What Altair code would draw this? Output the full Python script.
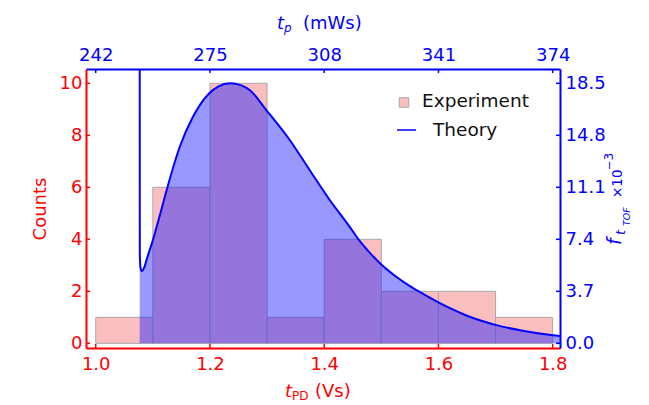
import altair as alt
import pandas as pd

# ---------------- data ----------------
bin_lo = [1.0, 1.1, 1.2, 1.3, 1.4, 1.5, 1.6, 1.7]
bin_hi = [1.1, 1.2, 1.3, 1.4, 1.5, 1.6, 1.7, 1.8]
counts = [1, 6, 10, 1, 4, 2, 2, 1]

theory_t = [1.0770, 1.0772, 1.0785, 1.0805, 1.0850, 1.0887, 1.100, 1.112, 1.124,
            1.147, 1.170, 1.198, 1.215, 1.2346, 1.255, 1.270, 1.299, 1.340,
            1.375, 1.410, 1.445, 1.461, 1.480, 1.500, 1.525, 1.550, 1.573,
            1.600, 1.625, 1.650, 1.700, 1.750, 1.800, 1.8128]
theory_f = [22.0, 6.29, 5.37, 5.14, 5.40, 5.90, 7.33, 9.07, 10.88,
            13.97, 16.10, 17.76, 18.28, 18.50, 18.35, 18.00, 16.58, 14.45,
            12.30, 10.18, 8.27, 7.34, 6.44, 5.61, 4.77, 4.07, 3.52,
            2.92, 2.41, 1.96, 1.31, 0.87, 0.57, 0.52]

x_ticks = [1.0, 1.2, 1.4, 1.6, 1.8]
top_labels = ["242", "275", "308", "341", "374"]
count_ticks = [0, 2, 4, 6, 8, 10]
f_ticks = [0.0, 3.7, 7.4, 11.1, 14.8, 18.5]
legend_labels = ["Experiment", "Theory"]

# ---------------- style ----------------
RED = "#ff0000"
BLUE = "#0000ff"
PINK = "#fabebe"
FONT = "DejaVu Sans"
W, H = 474, 279

X_DOM = [0.983, 1.8128]
Y_DOM = [-0.18, 10.55]
F_DOM = [-0.18 * 1.85, 10.55 * 1.85]

xs = alt.Scale(domain=X_DOM, nice=False, zero=False)
ys = alt.Scale(domain=Y_DOM, nice=False, zero=False)
fs = alt.Scale(domain=F_DOM, nice=False, zero=False)

hist = pd.DataFrame({"lo": bin_lo, "hi": bin_hi, "n": counts})
theory = pd.DataFrame({"t": theory_t, "f": theory_f})

def axis(orient, color, values, pad, **kw):
    return alt.Axis(orient=orient, values=values, title=None, grid=False, ticks=False,
                    domainColor=color, domainWidth=2, labelColor=color, labelFont=FONT,
                    labelFontSize=18, labelPadding=pad, **kw)

top_expr = "[" + ",".join("'%s'" % s for s in top_labels) + "][round((datum.value-1.0)/0.2)]"

bars = alt.Chart(hist).mark_rect(fill=PINK, stroke="#a9a9a9", strokeWidth=1).encode(
    x=alt.X("lo:Q", scale=xs, axis=axis("bottom", RED, x_ticks, 7, format=".1f")),
    x2="hi:Q",
    y=alt.Y("n:Q", scale=ys, axis=axis("left", RED, count_ticks, 4, format="d")),
    y2=alt.datum(0),
)

area = alt.Chart(theory).mark_area(color="#1a1aff", opacity=0.45, interpolate="monotone", clip=True).encode(
    x=alt.X("t:Q", scale=xs, axis=axis("top", BLUE, x_ticks, 5, labelExpr=top_expr)),
    y=alt.Y("f:Q", scale=fs, axis=axis("right", BLUE, f_ticks, 5, format=".1f")),
    y2=alt.datum(0),
)

line = alt.Chart(theory).mark_line(color=BLUE, strokeWidth=2, interpolate="monotone", clip=True).encode(
    x=alt.X("t:Q", scale=xs, axis=None),
    y=alt.Y("f:Q", scale=fs, axis=None),
)

# inward ticks
bt = alt.Chart(pd.DataFrame({"v": x_ticks})).mark_rule(color=RED, strokeWidth=1.5).encode(
    x=alt.X("v:Q", scale=xs, axis=None), y=alt.value(H), y2=alt.value(H - 4))
tt = alt.Chart(pd.DataFrame({"v": x_ticks})).mark_rule(color=BLUE, strokeWidth=1.5).encode(
    x=alt.X("v:Q", scale=xs, axis=None), y=alt.value(0), y2=alt.value(4))
lt = alt.Chart(pd.DataFrame({"v": count_ticks})).mark_rule(color=RED, strokeWidth=1.5).encode(
    y=alt.Y("v:Q", scale=ys, axis=None), x=alt.value(0), x2=alt.value(4))
rt = alt.Chart(pd.DataFrame({"v": f_ticks})).mark_rule(color=BLUE, strokeWidth=1.5).encode(
    y=alt.Y("v:Q", scale=fs, axis=None), x=alt.value(W), x2=alt.value(W - 4))

# legend
leg_sq = alt.Chart(pd.DataFrame({"k": legend_labels[:1]})).mark_square(
    size=90, fill=PINK, stroke="#a9a9a9", strokeWidth=1, opacity=1).encode(
    x=alt.value(318), y=alt.value(33.5))
leg_ln = alt.Chart(pd.DataFrame({"k": legend_labels[1:]})).mark_rule(color=BLUE, strokeWidth=1.5).encode(
    x=alt.value(311), x2=alt.value(330), y=alt.value(61))
leg_t1 = alt.Chart(pd.DataFrame({"k": legend_labels[:1]})).mark_text(
    align="left", baseline="alphabetic", font=FONT, fontSize=18.5, color="#111111").encode(
    x=alt.value(336), y=alt.value(38), text="k:N")
leg_t2 = alt.Chart(pd.DataFrame({"k": legend_labels[1:]})).mark_text(
    align="left", baseline="alphabetic", font=FONT, fontSize=18.5, color="#111111").encode(
    x=alt.value(347), y=alt.value(67), text="k:N")

def txt(s, x, y, color, size, italic=False, angle=0, align="left"):
    return alt.Chart(pd.DataFrame({"s": [s]})).mark_text(
        align=align, baseline="alphabetic", font=FONT, fontSize=size,
        fontStyle="italic" if italic else "normal", angle=angle, color=color).encode(
        x=alt.value(x), y=alt.value(y), text="s:N")

titles = [
    # bottom: t_PD (Vs)
    txt("t", 199, 328, RED, 18, True),
    txt("PD", 206, 331, RED, 12),
    txt("(Vs)", 229, 328, RED, 18),
    # top: t_p (mWs)
    txt("t", 191, -40, BLUE, 18, True),
    txt("p", 198, -37, BLUE, 12, True),
    txt("(mWs)", 217, -40, BLUE, 18),
    # left: Counts
    txt("Counts", -40, 140, RED, 18, False, 270, "center"),
    # right: f_tTOF x10^-3
    txt("f", 535, 176, BLUE, 19, True, 270),
    txt("t", 539, 166, BLUE, 13, True, 270),
    txt("TOF", 544, 157, BLUE, 9.5, True, 270),
    txt("×10", 536, 129, BLUE, 13.5, False, 270),
    txt("−3", 527, 101, BLUE, 11.5, False, 270),
]

chart = alt.layer(bars, area, line, bt, tt, lt, rt, leg_sq, leg_ln, leg_t1, leg_t2, *titles).resolve_scale(
    y="independent"
).resolve_axis(
    x="independent", y="independent"
).properties(
    width=W, height=H,
    padding={"left": 78, "top": 61, "right": 75, "bottom": 62},
    autosize=alt.AutoSizeParams(type="none"),
).configure_view(stroke=None).configure(background="white")

chart.save("out.html", embed_options={"renderer": "svg", "actions": False})
